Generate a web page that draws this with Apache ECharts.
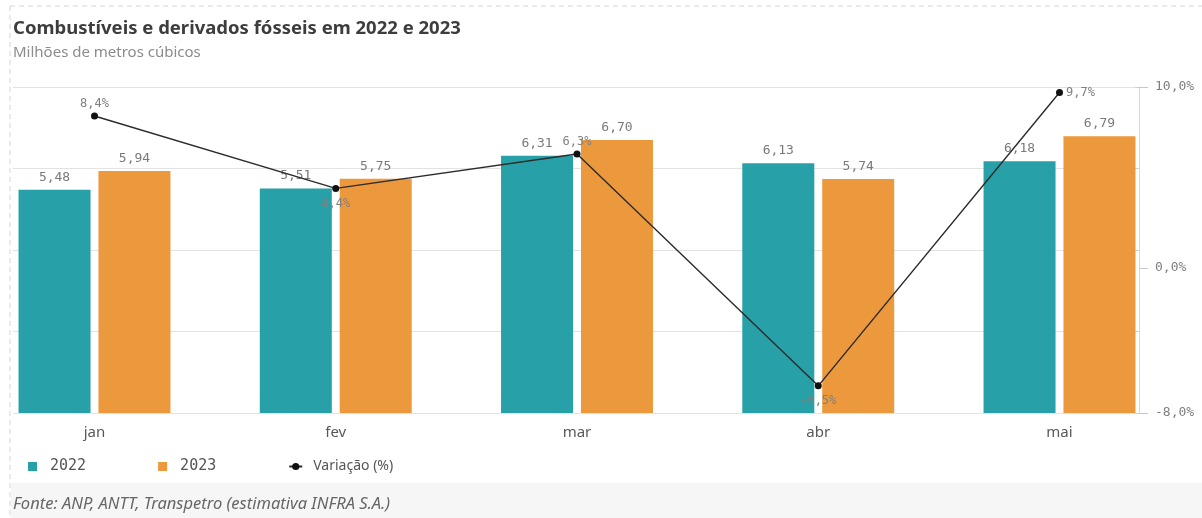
<!DOCTYPE html>
<html>
<head>
<meta charset="utf-8">
<script src="https://cdn.jsdelivr.net/npm/echarts@6/dist/echarts.min.js"></script>
<style>
  html, body { margin: 0; padding: 0; background: #fff; }
  #chart { width: 1202px; height: 518px; }
</style>
</head>
<body>
<div id="chart"></div>
<script>
  // dados (milhões de m³) e variação anual
  const months = ['jan', 'fev', 'mar', 'abr', 'mai']
  const vol2022 = [5.48, 5.51, 6.31, 6.13, 6.18]
  const vol2023 = [5.94, 5.75, 6.70, 5.74, 6.79]
  const variacao = [8.4, 4.4, 6.3, -6.5, 9.7]
  const pctTicks = [-8, 0, 10]

  const mono = 'DejaVu Sans Mono'
  const sans = 'Noto Sans'
  const labelPos = ['top', 'bottom', 'top', 'bottom', 'right']

  const fmtNum = v => v.toFixed(2).replace('.', ',')
  const fmtPct = v => v.toFixed(1).replace('.', ',') + '%'

  const chart = echarts.init(document.getElementById('chart'))
  chart.setOption({
    animation: false,
    backgroundColor: '#fff',
    title: [
      {
        text: 'Combustíveis e derivados fósseis em 2022 e 2023',
        left: 8, top: 14,
        textStyle: { fontFamily: sans, fontWeight: 'bold', fontSize: 18.5, color: '#3d3d3d' }
      },
      {
        text: 'Milhões de metros cúbicos',
        left: 8, top: 40,
        textStyle: { fontFamily: sans, fontWeight: 'normal', fontSize: 15, color: '#8c8c8c' }
      },
      {
        text: 'Fonte: ANP, ANTT, Transpetro (estimativa INFRA S.A.)',
        left: 8, top: 491,
        textStyle: { fontFamily: sans, fontStyle: 'italic', fontWeight: 'normal', fontSize: 16.5, color: '#666' }
      }
    ],
    graphic: [
      { type: 'rect', left: 11, top: 483, z: -10, shape: { width: 1191, height: 35 }, style: { fill: '#f6f6f6' } },
      { type: 'line', z: -5, shape: { x1: 10, y1: 6, x2: 1202, y2: 6 }, style: { stroke: '#d5d5d5', lineWidth: 1, lineDash: [5, 4] } },
      { type: 'line', z: -5, shape: { x1: 10, y1: 6, x2: 10, y2: 518 }, style: { stroke: '#d5d5d5', lineWidth: 1, lineDash: [5, 4] } }
    ],
    legend: {
      left: 23, top: 454,
      itemWidth: 13, itemHeight: 9, itemGap: 72,
      textStyle: { color: '#555', fontSize: 14, padding: [0, 0, 0, 6] },
      data: [
        { name: '2022', icon: 'path://M0,0H9V9H0Z', textStyle: { fontFamily: mono, fontSize: 15 } },
        { name: '2023', icon: 'path://M0,0H9V9H0Z', textStyle: { fontFamily: mono, fontSize: 15 } },
        { name: 'Variação (%)', textStyle: { fontFamily: sans, fontSize: 14 } }
      ]
    },
    grid: [
      { left: 13, right: 63, top: 87, height: 326 },
      { left: 94.5, width: 965, top: 87, height: 326 }
    ],
    xAxis: [
      { type: 'category', gridIndex: 0, data: months, show: false },
      {
        type: 'category', gridIndex: 1, data: months, boundaryGap: false,
        axisLine: { show: false }, axisTick: { show: false },
        axisLabel: { color: '#595959', fontFamily: sans, fontSize: 15, margin: 12 }
      }
    ],
    yAxis: [
      {
        type: 'value', gridIndex: 0, position: 'right', min: 0, max: 8, interval: 2,
        axisLine: { show: true, lineStyle: { color: '#d9d9d9' } },
        axisTick: { show: true, inside: true, length: 4, lineStyle: { color: '#d0d0d0' } },
        axisLabel: { show: false },
        splitLine: { show: true, lineStyle: { color: '#e3e3e3' } }
      },
      {
        type: 'value', gridIndex: 0, position: 'right', min: -8, max: 10,
        axisLine: { show: false },
        axisTick: { show: true, length: 9, customValues: pctTicks, lineStyle: { color: '#c8c8c8' } },
        axisLabel: { customValues: pctTicks, formatter: fmtPct, color: '#7f7f7f', fontFamily: mono, fontSize: 13, margin: 16 },
        splitLine: { show: false }
      },
      { type: 'value', gridIndex: 1, min: 0, max: 8, show: false },
      { type: 'value', gridIndex: 1, min: -8, max: 10, show: false }
    ],
    series: [
      {
        name: '2022', type: 'bar', xAxisIndex: 1, yAxisIndex: 2, clip: false,
        barWidth: 72, barGap: '11%',
        itemStyle: { color: '#27a0a7' },
        label: { show: true, position: 'top', distance: 6, formatter: p => fmtNum(p.value), color: '#7a7a7a', fontFamily: mono, fontSize: 13 },
        data: vol2022
      },
      {
        name: '2023', type: 'bar', xAxisIndex: 1, yAxisIndex: 2, clip: false,
        barWidth: 72, barGap: '11%',
        itemStyle: { color: '#ec983c' },
        label: { show: true, position: 'top', distance: 6, formatter: p => fmtNum(p.value), color: '#7a7a7a', fontFamily: mono, fontSize: 13 },
        data: vol2023
      },
      {
        name: 'Variação (%)', type: 'line', xAxisIndex: 1, yAxisIndex: 3, z: 5, clip: false,
        symbol: 'circle', symbolSize: 7,
        lineStyle: { color: '#2b2b2b', width: 1.4 },
        itemStyle: { color: '#111' },
        label: { show: true, distance: 4, formatter: p => fmtPct(p.value), color: '#808080', fontFamily: mono, fontSize: 12 },
        data: variacao.map((v, i) => ({ value: v, label: { position: labelPos[i], distance: labelPos[i] === 'bottom' ? 6 : 3 } }))
      }
    ]
  })
</script>
</body>
</html>
